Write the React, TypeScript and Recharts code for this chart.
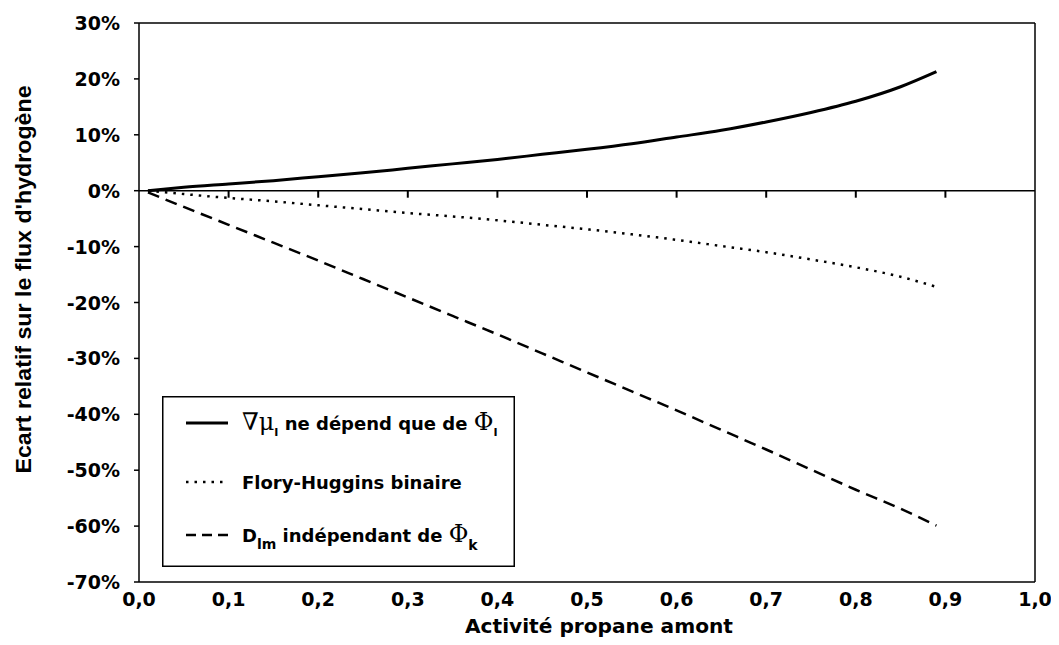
import React from "react";
import { LineChart, Line, XAxis, YAxis, ReferenceLine } from "recharts";

const activity = [0.01, 0.05, 0.1, 0.15, 0.2, 0.25, 0.3, 0.35, 0.4, 0.45, 0.5, 0.55, 0.6, 0.65, 0.7, 0.75, 0.8, 0.85, 0.89];
const gradMuSeries = [0, 0.6, 1.2, 1.8, 2.5, 3.2, 4.0, 4.8, 5.6, 6.5, 7.4, 8.4, 9.6, 10.8, 12.3, 14.0, 16.0, 18.6, 21.3];
const floryHugginsSeries = [0, -0.6, -1.3, -1.9, -2.6, -3.3, -4.0, -4.6, -5.3, -6.1, -6.9, -7.8, -8.8, -9.9, -11.0, -12.3, -13.7, -15.4, -17.2];
const dimSeries = [-0.3, -2.9, -6.1, -9.3, -12.5, -15.8, -19.1, -22.4, -25.7, -29.1, -32.5, -35.9, -39.3, -42.8, -46.3, -49.9, -53.5, -56.9, -59.9];
const xTicks = [0, 0.1, 0.2, 0.3, 0.4, 0.5, 0.6, 0.7, 0.8, 0.9, 1.0];
const yTicks = [-70, -60, -50, -40, -30, -20, -10, 0, 10, 20, 30];
const zeroTickXs = [0.1, 0.2, 0.3, 0.4, 0.5, 0.6, 0.7, 0.8, 0.9];

const data: any[] = [
  ...activity.map((a, i) => ({
    a,
    grad: gradMuSeries[i],
    fh: floryHugginsSeries[i],
    dim: dimSeries[i],
  })),
  ...zeroTickXs.map((a) => ({ a, zt: 0 })),
].sort((p, q) => p.a - q.a);

const tickFont = "'DejaVu Sans', sans-serif";

const XTick = (props: any) => {
  const { x, y, payload } = props;
  return (
    <text x={x} y={y + 24} textAnchor="middle" fontFamily={tickFont} fontWeight="bold" fontSize={19} fill="#000">
      {Number(payload.value).toFixed(1).replace(".", ",")}
    </text>
  );
};

const YTick = (props: any) => {
  const { x, y, payload } = props;
  return (
    <text x={x} y={y + 7} textAnchor="end" fontFamily={tickFont} fontWeight="bold" fontSize={19} fill="#000">
      {payload.value}%
    </text>
  );
};

const ZeroTickMark = (props: any) => {
  const { cx, cy, index } = props;
  if (cx == null || cy == null || !isFinite(cy)) return <g key={`zt-${index}`} />;
  return <line key={`zt-${index}`} x1={cx} x2={cx} y1={cy} y2={cy + 7} stroke="#000" strokeWidth={2} />;
};

const YLabel = (props: any) => {
  const vb = props.viewBox || { x: 0, y: 15, width: 131, height: 559 };
  const cx = vb.x + 23;
  const cy = vb.y + vb.height / 2 - 23;
  return (
    <text
      x={cx}
      y={cy}
      transform={`rotate(-90 ${cx} ${cy})`}
      textAnchor="middle"
      fontFamily="'Liberation Sans', Arial, sans-serif"
      fontWeight="bold"
      fontSize={22}
      textLength={388}
      lengthAdjust="spacingAndGlyphs"
      fill="#000"
    >
      Ecart relatif sur le flux d'hydrogène
    </text>
  );
};

const XLabel = (props: any) => {
  const vb = props.viewBox || { x: 131, y: 574, width: 896, height: 63 };
  const cx = vb.x + vb.width / 2 + 12;
  const cy = vb.y + 51;
  return (
    <text x={cx} y={cy} textAnchor="middle" fontFamily={tickFont} fontWeight="bold" fontSize={19} textLength={268} lengthAdjust="spacingAndGlyphs" fill="#000">
      Activité propane amont
    </text>
  );
};

const serif = "'DejaVu Serif', 'Liberation Serif', serif";
const sans = "'DejaVu Sans', sans-serif";

const LegendBox = () => {
  const w = 353;
  const h = 171;
  return (
    <svg width={w} height={h} style={{ display: "block" }}>
      <rect x={0.75} y={0.75} width={w - 1.5} height={h - 1.5} fill="#fff" stroke="#000" strokeWidth={1.5} />
      <line x1={24} x2={66} y1={27} y2={27} stroke="#000" strokeWidth={3} />
      <line x1={24} x2={66} y1={86} y2={86} stroke="#000" strokeWidth={2.5} strokeDasharray="2.5 6" />
      <line x1={24} x2={66} y1={139} y2={139} stroke="#000" strokeWidth={2.5} strokeDasharray="10 6" />
      <text x={80} y={34} fill="#000">
        <tspan fontFamily={serif} fontSize={24}>∇μ</tspan>
        <tspan fontFamily={sans} fontWeight="bold" fontSize={11} dy={6}>I</tspan>
        <tspan fontFamily={sans} fontWeight="bold" fontSize={18} dy={-6}> ne dépend que de </tspan>
        <tspan fontFamily={serif} fontSize={24}>Φ</tspan>
        <tspan fontFamily={sans} fontWeight="bold" fontSize={11} dy={6}>I</tspan>
      </text>
      <text x={80} y={93} fill="#000" fontFamily={sans} fontWeight="bold" fontSize={18}>
        Flory-Huggins binaire
      </text>
      <text x={80} y={146} fill="#000">
        <tspan fontFamily={sans} fontWeight="bold" fontSize={18}>D</tspan>
        <tspan fontFamily={sans} fontWeight="bold" fontSize={14} dy={7}>lm</tspan>
        <tspan fontFamily={sans} fontWeight="bold" fontSize={18} dy={-7}> indépendant de </tspan>
        <tspan fontFamily={serif} fontSize={24}>Φ</tspan>
        <tspan fontFamily={sans} fontWeight="bold" fontSize={14} dy={8}>k</tspan>
      </text>
    </svg>
  );
};

export default function App() {
  return (
    <div style={{ width: 1051, height: 637, background: "#fff", position: "relative" }}>
      <LineChart width={1051} height={637} data={data} margin={{ top: 15, right: 24, left: 0, bottom: 0 }}>
        <XAxis
          dataKey="a"
          type="number"
          domain={[0, 1]}
          ticks={xTicks}
          tick={<XTick />}
          tickLine={false}
          tickSize={0}
          tickMargin={0}
          height={63}
          axisLine={{ stroke: "#000", strokeWidth: 1.5 }}
          label={<XLabel />}
        />
        <YAxis
          type="number"
          domain={[-70, 30]}
          ticks={yTicks}
          tick={<YTick />}
          tickSize={5}
          tickMargin={14}
          width={131}
          interval={0}
          axisLine={{ stroke: "#000", strokeWidth: 1.5 }}
          tickLine={{ stroke: "#000", strokeWidth: 1.5 }}
          label={<YLabel />}
        />
        <ReferenceLine y={30} stroke="#000" strokeWidth={1.5} />
        <ReferenceLine x={1} stroke="#000" strokeWidth={1.5} />
        <ReferenceLine y={0} stroke="#000" strokeWidth={1.5} />
        <Line dataKey="zt" stroke="none" dot={ZeroTickMark} activeDot={false} isAnimationActive={false} />
        <Line dataKey="grad" type="monotone" connectNulls stroke="#000" strokeWidth={3} dot={false} isAnimationActive={false} />
        <Line dataKey="fh" type="monotone" connectNulls stroke="#000" strokeWidth={2.5} strokeDasharray="2.5 6" dot={false} isAnimationActive={false} />
        <Line dataKey="dim" type="monotone" connectNulls stroke="#000" strokeWidth={2.5} strokeDasharray="12 7" dot={false} isAnimationActive={false} />
      </LineChart>
      <div style={{ position: "absolute", left: 154, top: 388 }}>
        <LegendBox />
      </div>
    </div>
  );
}
